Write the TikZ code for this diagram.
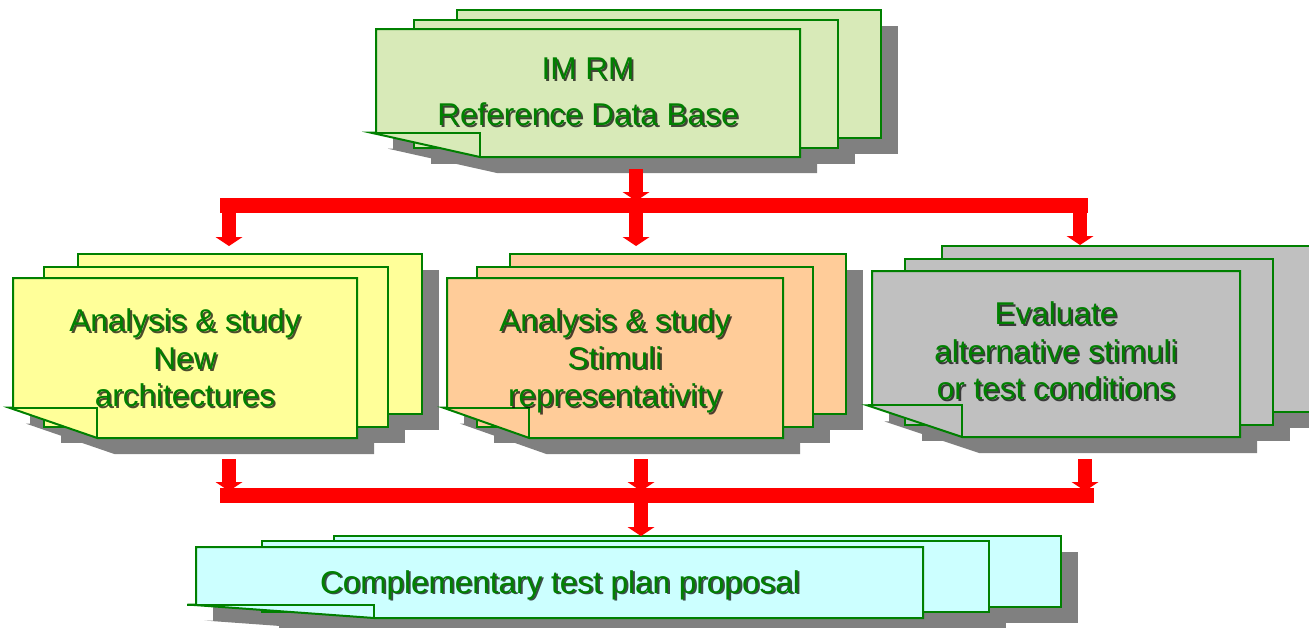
\documentclass[tikz,border=0pt]{standalone}
\usepackage{fontspec}
\setmainfont{Liberation Sans}
\usetikzlibrary{arrows.meta}
\definecolor{sheetgreen}{RGB}{0,128,0}
\definecolor{txtgreen}{RGB}{0,128,0}
\definecolor{fillgreen}{RGB}{216,234,184}
\definecolor{fillyellow}{RGB}{255,255,153}
\definecolor{fillorange}{RGB}{255,204,153}
\definecolor{fillgray}{RGB}{192,192,192}
\definecolor{fillcyan}{RGB}{204,255,255}
\definecolor{shadowgray}{RGB}{128,128,128}
\tikzset{
  sheet/.style={draw=sheetgreen, line width=2pt, line join=miter},
  sheetshadow/.style={fill=shadowgray},
  txt/.style={text=txtgreen, align=center, inner sep=0pt, font=\fontsize{31.5}{37.5}\selectfont},
  txtshadow/.style={txt, text=black, text opacity=0.7},
  redbar/.style={draw=red, line width=15pt},
  blockarrow/.style={draw=red, line width=14pt, -{Triangle[width=27pt,length=9pt,line width=0pt]}},
}
% #1 fill, #2 x0, #3 y0, #4 w, #5 h, #6 dx1, #7 dy1 (up), #8 dx2, #9 dy2 (up)
\newcommand\mdoc[9]{%
  \pgfmathsetmacro\mdFW{0.245*#4}%
  \pgfmathsetmacro\mdFH{0.19*#5}%
  \pgfmathsetmacro\mdOV{0.012*#4}%
  \begin{scope}[shift={(17,16)}]
    \fill[sheetshadow] (#2+#8,#3-#9) rectangle ++(#4,#5);
    \fill[sheetshadow] (#2+#6,#3-#7) rectangle ++(#4,#5);
    \fill[sheetshadow] (#2,#3) -- ++(#4,0) -- ++(0,#5) -- (#2+\mdFW,#3+#5) -- (#2-\mdOV,#3+#5-\mdFH) -- (#2,#3+#5-\mdFH) -- cycle;
  \end{scope}
  \filldraw[sheet,fill=#1] (#2+#8,#3-#9) rectangle ++(#4,#5);
  \filldraw[sheet,fill=#1] (#2+#6,#3-#7) rectangle ++(#4,#5);
  \filldraw[sheet,fill=#1] (#2,#3) -- ++(#4,0) -- ++(0,#5) -- (#2+\mdFW,#3+#5) -- (#2-\mdOV,#3+#5-\mdFH) -- (#2,#3+#5-\mdFH) -- cycle;
  \draw[sheet] (#2-\mdOV,#3+#5-\mdFH) -- (#2+\mdFW,#3+#5-\mdFH) -- (#2+\mdFW,#3+#5);
}
\newcommand\shtext[4]{%
  \node[txtshadow,#4,xshift=1.8pt,yshift=-1.8pt] (#1s) at (#2) {#3};
  \node[txt,#4] (#1) at (#2) {#3};
}
\begin{document}
\begin{tikzpicture}[x=1pt,y=-1pt]
\useasboundingbox (0,0) rectangle (1309,627);
\clip (0,0) rectangle (1309,627);
% sheet groups
\mdoc{fillgreen}{376}{29}{424}{128}{38}{9}{81}{19}
\mdoc{fillyellow}{13}{278}{344}{160}{31}{11}{65}{24}
\mdoc{fillorange}{447}{278}{336}{160}{30}{11}{63}{24}
\mdoc{fillgray}{872}{271}{368}{166}{33}{12}{70}{25}
\mdoc{fillcyan}{196}{547}{727}{71}{66}{6}{138}{11}
% connector coordinates
\coordinate (topout) at (636,169);
\coordinate (topjoin) at (636,201);
\coordinate (barTL) at (220,205.5);
\coordinate (barTR) at (1088,205.5);
\coordinate (sL) at (229,210);
\coordinate (sM) at (636,210);
\coordinate (sR) at (1080,210);
\coordinate (inL) at (229,246);
\coordinate (inM) at (636,246);
\coordinate (inR) at (1080,245);
\coordinate (outL) at (229,459);
\coordinate (outM) at (641,459);
\coordinate (outR) at (1085,459);
\coordinate (jL) at (229,491);
\coordinate (jM) at (641,491);
\coordinate (jR) at (1085,491);
\coordinate (barBL) at (220,495.5);
\coordinate (barBR) at (1094,495.5);
\coordinate (sB) at (641,500);
\coordinate (inB) at (641,536);
% bars and arrows
\draw[redbar] (barTL) -- (barTR);
\draw[blockarrow] (topout) -- (topjoin);
\draw[blockarrow] (sL) -- (inL);
\draw[blockarrow] (sM) -- (inM);
\draw[blockarrow] (sR) -- (inR);
\draw[redbar] (barBL) -- (barBR);
\draw[blockarrow] (outL) -- (jL);
\draw[blockarrow] (outM) -- (jM);
\draw[blockarrow] (outR) -- (jR);
\draw[blockarrow] (sB) -- (inB);
% texts
\shtext{tTop}{588,92}{IM RM\\Reference Data Base}{font=\fontsize{31.5}{46}\selectfont}
\shtext{tLeft}{185,358}{Analysis \& study\\New\\architectures}{}
\shtext{tMid}{615,361}{Analysis \& study\\Stimuli\\representativity}{}
\shtext{tRight}{1056,351}{Evaluate\\alternative stimuli\\or test conditions}{}
\shtext{tBot}{560,593}{Complementary test plan proposal}{anchor=base}
\end{tikzpicture}
\end{document}
